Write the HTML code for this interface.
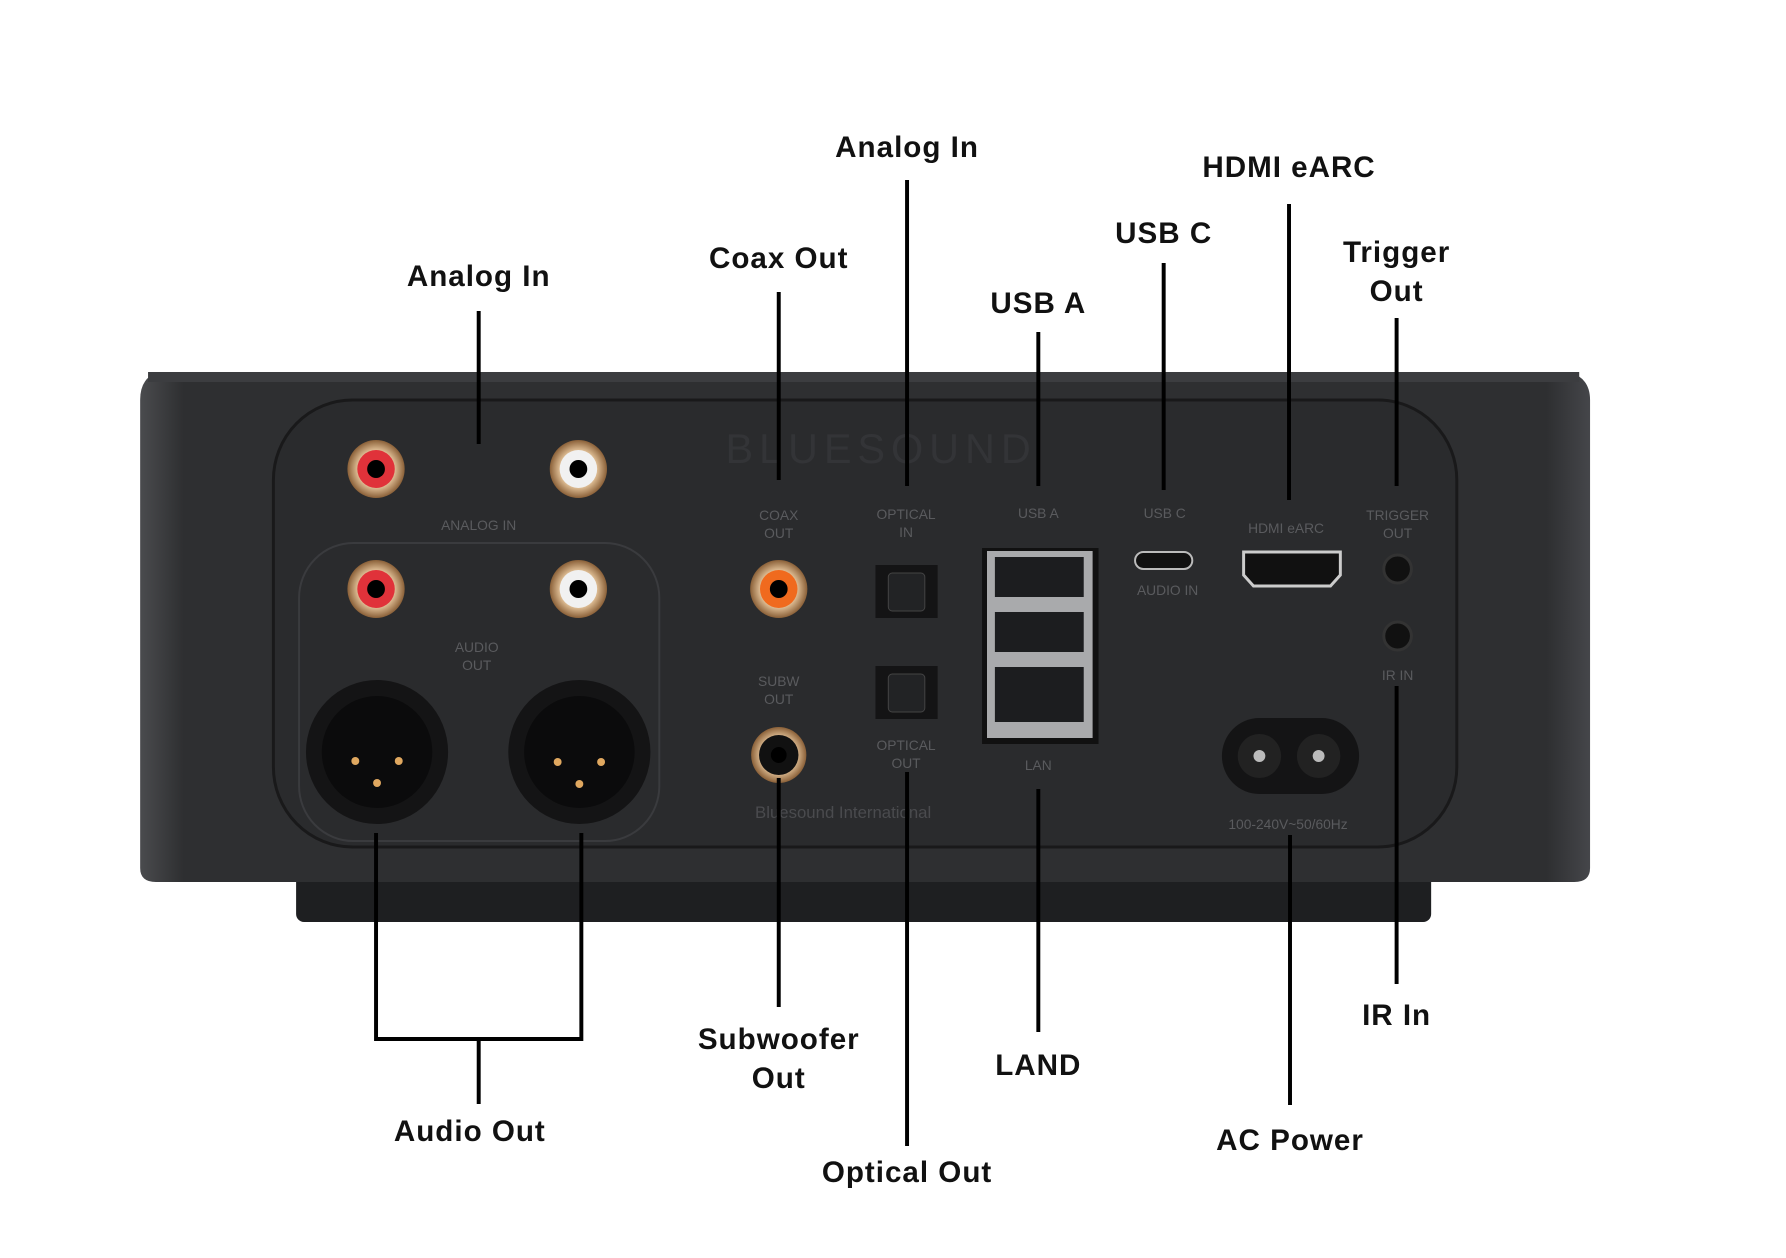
<!DOCTYPE html>
<html><head><meta charset="utf-8"><style>
html,body{margin:0;padding:0;background:#fff;}
svg{display:block;}
.lb{font-family:"Liberation Sans",Arial,sans-serif;font-weight:bold;font-size:30px;letter-spacing:1px;fill:#111;text-anchor:middle;}
.sm{font-family:"Liberation Sans",Arial,sans-serif;font-size:14px;fill:#5a5b5e;text-anchor:middle;}
.ln{stroke:#000;stroke-width:4;fill:none;}
</style></head><body>
<svg width="1786" height="1258" viewBox="0 0 1786 1258" xmlns="http://www.w3.org/2000/svg">
<defs>
<linearGradient id="body" x1="0" y1="0" x2="1" y2="0">
<stop offset="0" stop-color="#4a4b4e"/><stop offset="0.03" stop-color="#2e2f31"/><stop offset="0.97" stop-color="#2e2f31"/><stop offset="1" stop-color="#45464a"/>
</linearGradient>
<radialGradient id="gold"><stop offset="0.6" stop-color="#e9c9a0"/><stop offset="1" stop-color="#8a6038"/></radialGradient>
</defs>
<g transform="scale(0.987,1)">
<rect x="300" y="860" width="1150" height="62" rx="8" fill="#1e1f21"/>
<path d="M160 372 L1590 372 Q1611 378 1611 400 L1611 868 Q1611 882 1595 882 L158 882 Q142 882 142 868 L142 400 Q142 378 160 372 Z" fill="url(#body)"/>
<rect x="150" y="372" width="1450" height="10" fill="#3c3d40"/>
<rect x="277" y="400" width="1199" height="447" rx="80" fill="#2a2b2d" stroke="#19191a" stroke-width="3"/>
<rect x="303" y="543" width="365" height="298" rx="55" fill="none" stroke="#3a3b3e" stroke-width="2"/>
<text x="735" y="463" font-family="Liberation Sans" font-size="42" fill="#333437" letter-spacing="6">BLUESOUND</text>
<g>
<circle cx="381" cy="469" r="29" fill="url(#gold)"/><circle cx="381" cy="469" r="19" fill="#e0323a"/><circle cx="381" cy="469" r="9" fill="#000"/>
<circle cx="586" cy="469" r="29" fill="url(#gold)"/><circle cx="586" cy="469" r="19" fill="#f1f1f1"/><circle cx="586" cy="469" r="9" fill="#000"/>
<circle cx="381" cy="589" r="29" fill="url(#gold)"/><circle cx="381" cy="589" r="19" fill="#e0323a"/><circle cx="381" cy="589" r="9" fill="#000"/>
<circle cx="586" cy="589" r="29" fill="url(#gold)"/><circle cx="586" cy="589" r="19" fill="#f1f1f1"/><circle cx="586" cy="589" r="9" fill="#000"/>
<circle cx="789" cy="589" r="29" fill="url(#gold)"/><circle cx="789" cy="589" r="19" fill="#f06a1e"/><circle cx="789" cy="589" r="9" fill="#000"/>
<circle cx="789" cy="755" r="28" fill="url(#gold)"/><circle cx="789" cy="755" r="20" fill="#111"/><circle cx="789" cy="755" r="8" fill="#000"/>
</g>
<text class="sm" x="485" y="530">ANALOG IN</text>
<text class="sm" x="483" y="652">AUDIO</text><text class="sm" x="483" y="670">OUT</text>
<g>
<circle cx="382" cy="752" r="72" fill="#141415"/><circle cx="382" cy="752" r="56" fill="#0b0b0c"/>
<circle cx="360" cy="761" r="4" fill="#e0a860"/><circle cx="404" cy="761" r="4" fill="#e0a860"/><circle cx="382" cy="783" r="4" fill="#e0a860"/>
<circle cx="587" cy="752" r="72" fill="#141415"/><circle cx="587" cy="752" r="56" fill="#0b0b0c"/>
<circle cx="565" cy="762" r="4" fill="#e0a860"/><circle cx="609" cy="762" r="4" fill="#e0a860"/><circle cx="587" cy="784" r="4" fill="#e0a860"/>
</g>
<text class="sm" x="789" y="520">COAX</text><text class="sm" x="789" y="538">OUT</text>
<text class="sm" x="789" y="686">SUBW</text><text class="sm" x="789" y="704">OUT</text>
<rect x="887" y="565" width="63" height="53" fill="#141415"/><rect x="900" y="573" width="37" height="38" rx="4" fill="#222325" stroke="#444" stroke-width="1"/>
<rect x="887" y="666" width="63" height="53" fill="#141415"/><rect x="900" y="674" width="37" height="38" rx="4" fill="#222325" stroke="#444" stroke-width="1"/>
<text class="sm" x="918" y="519">OPTICAL</text><text class="sm" x="918" y="537">IN</text>
<text class="sm" x="918" y="750">OPTICAL</text><text class="sm" x="918" y="768">OUT</text>
<rect x="995" y="548" width="118" height="196" fill="#111"/>
<rect x="1000" y="551" width="107" height="187" fill="#a9aaac"/>
<rect x="1008" y="557" width="90" height="40" fill="#1c1d1f"/>
<rect x="1008" y="612" width="90" height="40" fill="#1c1d1f"/>
<rect x="1008" y="667" width="90" height="55" fill="#1c1d1f"/>
<text class="sm" x="1052" y="518">USB A</text><text class="sm" x="1052" y="770">LAN</text>
<rect x="1150" y="552" width="58" height="17" rx="8.5" fill="#111" stroke="#bbb" stroke-width="2"/>
<text class="sm" x="1180" y="518">USB C</text><text class="sm" x="1183" y="595">AUDIO IN</text>
<path d="M1260 552 L1358 552 L1358 575 L1348 586 L1270 586 L1260 575 Z" fill="#111" stroke="#ccc" stroke-width="3"/>
<text class="sm" x="1303" y="533">HDMI eARC</text>
<circle cx="1416" cy="569" r="14" fill="#111" stroke="#333" stroke-width="3"/>
<circle cx="1416" cy="636" r="14" fill="#111" stroke="#333" stroke-width="3"/>
<text class="sm" x="1416" y="520">TRIGGER</text><text class="sm" x="1416" y="538">OUT</text>
<text class="sm" x="1416" y="680">IR IN</text>
<rect x="1238" y="718" width="139" height="76" rx="38" fill="#141415"/>
<circle cx="1276" cy="756" r="22" fill="#222"/><circle cx="1336" cy="756" r="22" fill="#222"/>
<circle cx="1276" cy="756" r="6" fill="#bbb"/><circle cx="1336" cy="756" r="6" fill="#bbb"/>
<text class="sm" x="1305" y="829">100-240V~50/60Hz</text>
<text x="765" y="818" font-family="Liberation Sans" font-size="17" fill="#4a4b4e">Bluesound International</text>
<path class="ln" d="M485 311 V444"/>
<path class="ln" d="M789 292 V480"/>
<path class="ln" d="M919 180 V486"/>
<path class="ln" d="M1052 332 V486"/>
<path class="ln" d="M1179 263 V490"/>
<path class="ln" d="M1306 204 V500"/>
<path class="ln" d="M1415 318 V486"/>
<path class="ln" d="M381 833 V1039 H589 V833 M485 1039 V1104"/>
<path class="ln" d="M789 778 V1007"/>
<path class="ln" d="M919 772 V1146"/>
<path class="ln" d="M1052 789 V1032"/>
<path class="ln" d="M1307 835 V1105"/>
<path class="ln" d="M1415 686 V984"/>
<text class="lb" x="485" y="286">Analog In</text>
<text class="lb" x="789" y="268">Coax Out</text>
<text class="lb" x="919" y="157">Analog In</text>
<text class="lb" x="1052" y="313">USB A</text>
<text class="lb" x="1179" y="243">USB C</text>
<text class="lb" x="1306" y="177">HDMI eARC</text>
<text class="lb" x="1415" y="262">Trigger</text>
<text class="lb" x="1415" y="301">Out</text>
<text class="lb" x="476" y="1141">Audio Out</text>
<text class="lb" x="789" y="1049">Subwoofer</text>
<text class="lb" x="789" y="1088">Out</text>
<text class="lb" x="919" y="1182">Optical Out</text>
<text class="lb" x="1052" y="1075">LAND</text>
<text class="lb" x="1307" y="1150">AC Power</text>
<text class="lb" x="1415" y="1025">IR In</text>
</g>
</svg>
</body></html>
